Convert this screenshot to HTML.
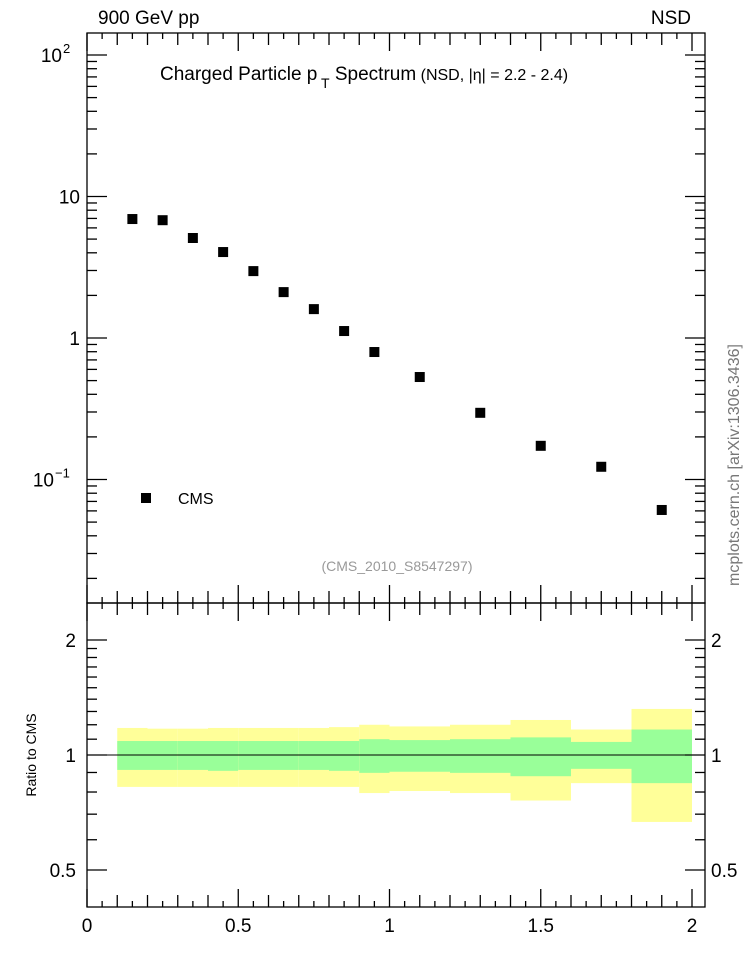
<!DOCTYPE html>
<html><head><meta charset="utf-8"><style>
body{margin:0;background:#fff;}
svg{display:block;font-family:"Liberation Sans",sans-serif;}
</style></head><body>
<svg id="c" width="746" height="972" xmlns="http://www.w3.org/2000/svg">
<text x="98" y="24" font-size="19">900 GeV pp</text>
<text x="691" y="24" font-size="19" text-anchor="end">NSD</text>
<text x="160" y="80" font-size="19">Charged Particle p<tspan dy="8" font-size="14"> T</tspan><tspan dy="-8"> Spectrum</tspan><tspan font-size="16"> (NSD, |η| = 2.2 - 2.4)</tspan></text>
<text x="397" y="571" font-size="14" fill="#999" text-anchor="middle">(CMS_2010_S8547297)</text>
<text transform="translate(739,465) rotate(-90)" font-size="16" fill="#777" text-anchor="middle">mcplots.cern.ch [arXiv:1306.3436]</text>
<text transform="translate(36,755) rotate(-90)" font-size="14" text-anchor="middle">Ratio to CMS</text>
<rect x="141" y="493" width="10" height="10" fill="#000"/>
<text x="178" y="504" font-size="16">CMS</text>
<g id="g"></g>
</svg>
<script>
const xVals=[0.15,0.25,0.35,0.45,0.55,0.65,0.75,0.85,0.95,1.1,1.3,1.5,1.7,1.9];
const yVals=[6.93,6.8,5.09,4.05,2.97,2.11,1.60,1.12,0.796,0.53,0.296,0.173,0.123,0.0609];
const binLo=[0.1,0.2,0.3,0.4,0.5,0.6,0.7,0.8,0.9,1.0,1.2,1.4,1.6,1.8];
const binHi=[0.2,0.3,0.4,0.5,0.6,0.7,0.8,0.9,1.0,1.2,1.4,1.6,1.8,2.0];
const yellowHi=[1.177,1.172,1.172,1.177,1.177,1.177,1.177,1.183,1.2,1.188,1.2,1.235,1.166,1.32];
const yellowLo=[0.825,0.825,0.825,0.825,0.825,0.825,0.825,0.825,0.795,0.805,0.795,0.76,0.844,0.668];
const greenHi=[1.088,1.088,1.088,1.088,1.088,1.088,1.088,1.088,1.1,1.094,1.1,1.112,1.082,1.166];
const greenLo=[0.914,0.914,0.914,0.909,0.914,0.914,0.914,0.909,0.898,0.904,0.898,0.88,0.92,0.844];
const xTicks=[0,0.5,1,1.5,2];
const xTickLabels=["0","0.5","1","1.5","2"];
const ratioTicks=[0.5,1,2];
const ratioTickLabels=["0.5","1","2"];

const L=87,R=705,T=33,M=603,B=907;
const X=v=>87+v*302.5;
const Y=v=>338-Math.log10(v)*141.5;
const RY=v=>755-Math.log10(v)*382;
const g=document.getElementById('g');
const NS="http://www.w3.org/2000/svg";
function mk(t,a){const e=document.createElementNS(NS,t);for(const k in a)e.setAttribute(k,a[k]);g.appendChild(e);return e;}

for(let i=0;i<binLo.length;i++){
  const y1=mk('rect',{x:X(binLo[i]),y:RY(yellowHi[i]),width:X(binHi[i])-X(binLo[i]),height:RY(yellowLo[i])-RY(yellowHi[i]),fill:'#ffff99'});
  
  
  const g1=mk('rect',{x:X(binLo[i]),y:RY(greenHi[i]),width:X(binHi[i])-X(binLo[i]),height:RY(greenLo[i])-RY(greenHi[i]),fill:'#99ff99'});
  
  
}
const ln=mk('line',{x1:L,x2:R,y1:RY(1),y2:RY(1),stroke:'#000','stroke-width':1});



for(let i=0;i<xVals.length;i++){
  const p=mk('rect',{x:X(xVals[i])-5,y:Y(yVals[i])-5,width:10,height:10,fill:'#000'});
  
  
}

for(const [y1,y2,n] of [[T,M,'main-frame'],[M,B,'ratio-frame']]){
  const f=mk('rect',{x:L,y:y1,width:R-L,height:y2-y1,fill:'none',stroke:'#000','stroke-width':1.3});
  
  
}
for(let v=0;v<=2.04;v+=0.05){
  const vv=Math.round(v*100)/100, major=Math.abs(vv*2-Math.round(vv*2))<1e-6;
  const mid=!major&&Math.abs(vv*10-Math.round(vv*10))<1e-6;
  const len=major?18:(mid?12:6);
  for(const [y,d] of [[T,1],[M,-1],[M,1],[B,-1]]) mk('line',{x1:X(vv),x2:X(vv),y1:y,y2:y+d*len,stroke:'#000','stroke-width':1.3});
}
xTicks.forEach((v,i)=>{
  const t=mk('text',{x:X(v),y:932,'font-size':19,'text-anchor':'middle'});
  t.textContent=xTickLabels[i];
  
  
});
for(let e=-2;e<=2;e++){for(let m=1;m<10;m++){
  const v=m*Math.pow(10,e),y=Y(v); if(y<T||y>M)continue;
  const len=m==1?20:10;
  mk('line',{x1:L,x2:L+len,y1:y,y2:y,stroke:'#000','stroke-width':1.3});
  mk('line',{x1:R,x2:R-len,y1:y,y2:y,stroke:'#000','stroke-width':1.3});
}}
const ml=[[Y(100),'10','2'],[Y(10),'10',''],[Y(1),'1',''],[Y(0.1),'10','−1']];
ml.forEach(([y,b,s])=>{
  const t=mk('text',{x:s?(s=='2'?62:54):80,y:y+7,'font-size':19,'text-anchor':'end'});
  t.textContent=b;
  
  
  if(s){
    const e=mk('text',{x:s=='2'?63:55,y:y-2,'font-size':13});
    e.textContent=s;
    
    
  }
});
const rt=[0.4,0.5,0.6,0.7,0.8,0.9,1,1.1,1.2,1.3,1.4,1.5,1.6,1.7,1.8,1.9,2,3];
rt.forEach(v=>{const y=RY(v);if(y<M||y>B)return;
  const len=(v==0.5||v==1||v==2)?20:10;
  mk('line',{x1:L,x2:L+len,y1:y,y2:y,stroke:'#000','stroke-width':1.3});
  mk('line',{x1:R,x2:R-len,y1:y,y2:y,stroke:'#000','stroke-width':1.3});
});
ratioTicks.forEach((v,i)=>{
  for(const [x,a] of [[76,'end'],[711,'start']]){
    const t=mk('text',{x:x,y:RY(v)+7,'font-size':19,'text-anchor':a});
    t.textContent=ratioTickLabels[i];
    
    
  }
});
</script>
</body></html>
